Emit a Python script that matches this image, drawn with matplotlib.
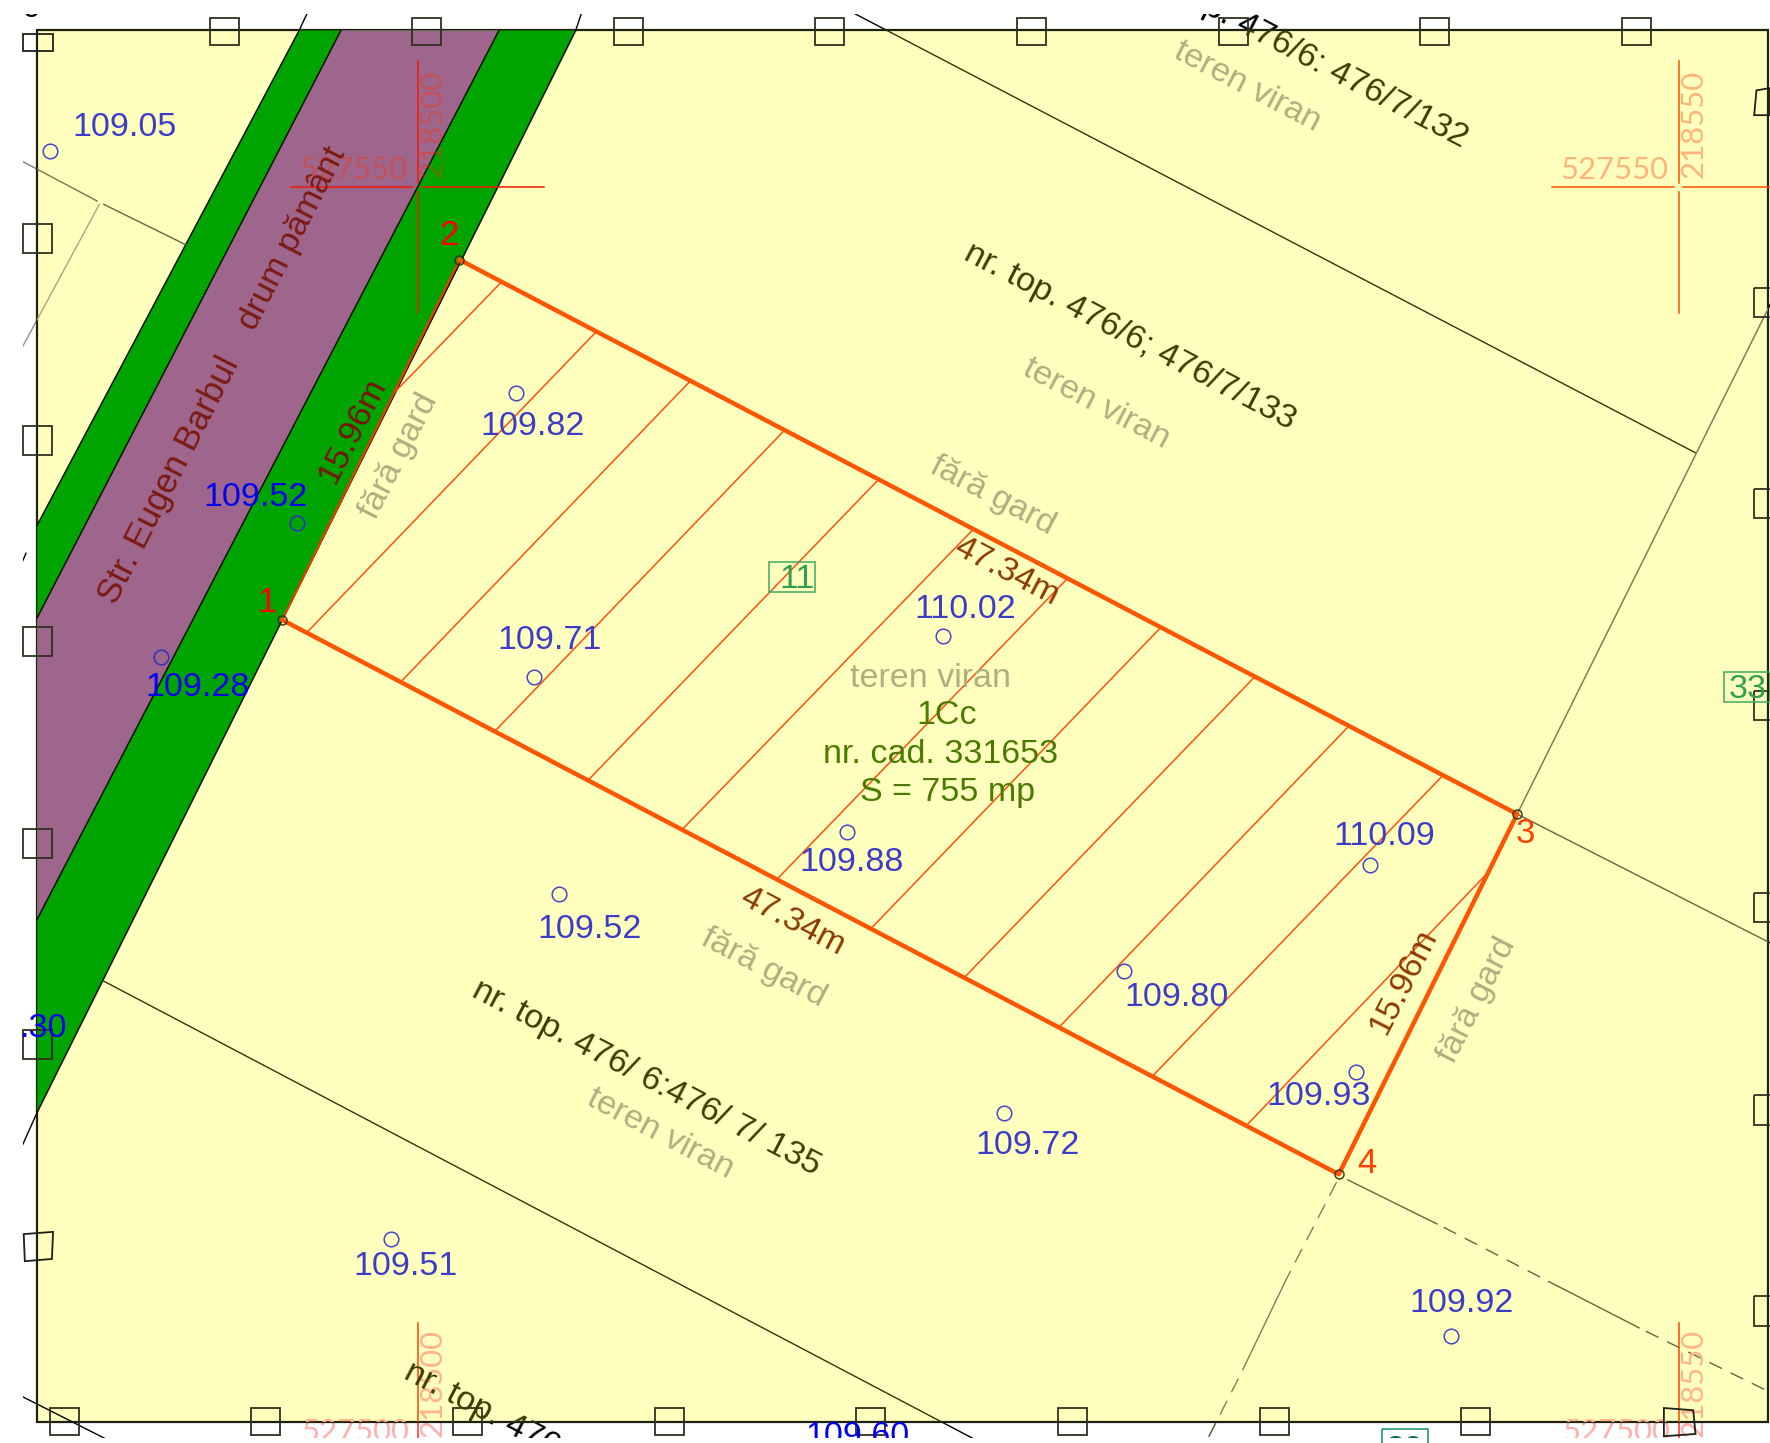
import math
import matplotlib
matplotlib.use('Agg')
import matplotlib.pyplot as plt
from matplotlib.patches import Polygon, Rectangle
from matplotlib.transforms import Bbox, TransformedBbox

plt.rcParams['font.family'] = ['Liberation Sans', 'DejaVu Sans']

frame_x = [33, 1566]
frame_y = [27, 1259]
view_x = [20, 1568]
view_y = [12, 1274]
YELLOW = '#FFFFBE'

road_left_outer = [(265, 27), (33, 465)]
road_left_inner = [(302, 27), (33, 547)]
road_right_inner = [(442, 27), (33, 814)]
road_right_outer = [(510, 27), (33, 985)]

parcel_x = [250, 407, 1344, 1186]
parcel_y = [549, 230, 721, 1040]
parcel_ids = ['1', '2', '3', '4']
parcel_id_x = [237, 398, 1351, 1211]
parcel_id_y = [531, 206, 736, 1028]
parcel_id_col = ['#FF0000', '#FF0000', '#FF4000', '#FF4000']

hatch_x0 = [444, 528, 611, 695, 778, 862, 945, 1028, 1111, 1195, 1278, 1315]
hatch_y0 = [250, 294, 338, 381, 425, 469, 513, 556, 600, 643, 687, 776]
hatch_x1 = [350, 272, 355, 438, 521, 604, 688, 771, 854, 938, 1021, 1104]
hatch_y1 = [347, 560, 604, 648, 691, 735, 779, 823, 866, 910, 953, 997]

elev_labels = ['109.05', '109.82', '109.71', '110.02', '109.88', '109.52',
               '109.80', '109.93', '110.09', '109.72', '109.51', '109.92']
elev_text_x = [110, 472, 487, 855, 754, 522, 1042, 1168, 1226, 910, 359, 1295]
elev_text_y = [110, 375, 565, 537, 761, 821, 881, 969, 738, 1012, 1119, 1152]
elev_pt_x = [44, 457, 473, 835, 750, 495, 996, 1201, 1214, 889, 346, 1285]
elev_pt_y = [134, 348, 600, 563, 737, 792, 860, 949, 766, 986, 1097, 1183]

road_elev_labels = ['109.52', '109.28', '.30', '109.60']
road_elev_x = [226, 175, 39, 760]
road_elev_y = [438, 606, 908, 1270]
road_pt_x = [263, 143]
road_pt_y = [463, 582]

top_sq_x = [199, 378, 557, 735, 914, 1093, 1271, 1450]
bottom_sq_x = [57, 235, 414, 593, 771, 950, 1129, 1307]
left_sq_y = [211, 390, 568, 747, 925]
right_sq_y = [268, 446, 625, 804, 983, 1161]
tilted_squares = [
    [(21, 1093), (47, 1091), (46, 1115), (22, 1117)],
    [(1568, 78), (1556, 80), (1554, 102), (1568, 102)],
    [(1474, 1247), (1500, 1249), (1502, 1270), (1474, 1272)],
    [(20, 30), (47, 30), (47, 45), (20, 45)],
]

cross_x = [370, 1487]
cross_y = [166, 166]
cross_h = [(258, 482), (1375, 1568)]
cross_v = [(54, 277), (54, 277)]
cross_col = ['#F01A00', '#FF5000']
cross_bottom_x = [370, 1487]

fig = plt.figure(figsize=(17.7, 14.43), dpi=100)
ax = fig.add_axes([0, 0, 1, 1])
ax.set_xlim(0, 1568)
ax.set_ylim(1278, 0)
ax.axis('off')

frame_box = TransformedBbox(Bbox([[frame_x[0], frame_y[0]], [frame_x[1], frame_y[1]]]), ax.transData)
view_box = TransformedBbox(Bbox([[view_x[0], view_y[0]], [view_x[1], view_y[1]]]), ax.transData)


def mapline(p0, p1, col, lw=1.0, ls='-', z=4, out='black'):
    # darker outside the sheet, tinted inside it
    u, = ax.plot([p0[0], p1[0]], [p0[1], p1[1]], color=out, lw=lw, ls=ls, zorder=1)
    u.set_clip_box(view_box)
    h, = ax.plot([p0[0], p1[0]], [p0[1], p1[1]], color=col, lw=lw, ls=ls, zorder=z)
    h.set_clip_box(frame_box)


def label(x, y, s, col, rot=0, size=24.5, outer=None, ha='center', alpha=None, z=8, **kw):
    # nudge towards the baseline side of the text
    x = x + 2.5 * math.sin(math.radians(rot))
    y = y + 2.5 * math.cos(math.radians(rot))
    if outer is not None:
        u = ax.text(x, y, s, color=outer, rotation=rot, fontsize=size, ha=ha, va='center',
                    rotation_mode='anchor', zorder=1, clip_on=True, **kw)
        u.set_clip_box(view_box)
    t = ax.text(x, y, s, color=col, rotation=rot, fontsize=size, ha=ha, va='center',
                rotation_mode='anchor', alpha=alpha, zorder=z, clip_on=True, **kw)
    t.set_clip_box(frame_box if outer is not None else view_box)


def grid_label(x, y, s, col, rot=0, outer=None, alpha=None):
    label(x, y, s, col, rot=rot, size=22.4, outer=outer, alpha=alpha, z=5, family='Lato')


ax.add_patch(Rectangle((frame_x[0], frame_y[0]), frame_x[1] - frame_x[0], frame_y[1] - frame_y[0],
                       facecolor=YELLOW, edgecolor='#202010', lw=1.6, zorder=2))

# road bands
ax.add_patch(Polygon(road_left_outer + [(33, 985)] + road_right_outer[::-1], closed=True,
                     facecolor='#00A400', edgecolor='none', zorder=3))
ax.add_patch(Polygon(road_left_inner + [road_right_inner[1], road_right_inner[0]], closed=True,
                     facecolor='#9E668C', edgecolor='none', zorder=3))
for edge in [road_left_outer, road_left_inner, road_right_inner, road_right_outer]:
    ax.plot(*zip(*edge), color='#101000', lw=1.1, zorder=3.5)
mapline((272, 12), (265, 27), 'black')
mapline((515, 12), (510, 27), 'black')
mapline((33, 985), (20, 1014), 'black')

# neighbour boundaries
mapline((757, 12), (1502, 401), '#33330A')
mapline((1568, 270), (1344, 721), '#808055', 1.1)
mapline((1344, 721), (1568, 835), '#66663A')
mapline((92, 869), (862, 1274), '#33330A')
mapline((20, 143), (86, 178), '#77774A', out='#808080')
mapline((92, 181), (165, 217), '#66663A')
mapline((88, 181), (20, 307), '#A6A680', out='#909090')
mapline((20, 1237), (93, 1274), 'black')
mapline((20, 497), (23, 490), 'black')
mapline((1194, 1045), (1273, 1084), '#66663A')
mapline((1279, 1087), (1372, 1135), '#66663A', ls=(0, (10, 7)))
mapline((1372, 1135), (1452, 1176), '#66663A')
mapline((1458, 1179), (1568, 1233), '#66663A', ls=(0, (10, 7)))
mapline((1184, 1047), (1139, 1134), '#808055', ls=(0, (11, 7)))
mapline((1139, 1134), (1101, 1213), '#808055')
mapline((1097, 1221), (1070, 1274), '#808055', ls=(0, (11, 7)), out='#505030')

# grid crosses
for cx, cy, hs, vs, col in zip(cross_x, cross_y, cross_h, cross_v, cross_col):
    ax.plot([hs[0], cx - 4], [cy, cy], color=col, lw=1.1, zorder=4)
    ax.plot([cx + 4, hs[1]], [cy, cy], color=col, lw=1.1, zorder=4)
    ax.plot([cx, cx], [vs[0], cy - 4], color=col, lw=1.1, zorder=4)
    ax.plot([cx, cx], [cy + 4, vs[1]], color=col, lw=1.1, zorder=4)
for cx in cross_bottom_x:
    mapline((cx, 1172), (cx, 1274), '#FF4400', 1.1, out='#FF3030')

pink = '#FF3000'
grid_label(313, 148, '527550', pink, alpha=0.36)
grid_label(381, 110, '218500', pink, rot=90, alpha=0.36)
grid_label(1430, 148, '527550', pink, alpha=0.36)
grid_label(1498, 110, '218550', pink, rot=90, alpha=0.36)
grid_label(381, 1225, '218500', '#FFB48C', rot=90, outer='#FFB0B0')
grid_label(1498, 1225, '218550', '#FFB48C', rot=90, outer='#FFB0B0')
grid_label(315, 1266, '527500', '#FFB48C', outer='#FFB0B0')
grid_label(1432, 1266, '527500', '#FFB48C', outer='#FFB0B0')

# parcel hatching and outline
for x0, y0, x1, y1 in zip(hatch_x0, hatch_y0, hatch_x1, hatch_y1):
    ax.plot([x0, x1], [y0, y1], color='#FF5010', lw=1.1, zorder=5)
ax.plot(parcel_x[:2], parcel_y[:2], color='#E04000', lw=1.6, zorder=6)
ax.plot(parcel_x[1:] + [parcel_x[0]], parcel_y[1:] + [parcel_y[0]], color='#FF5500', lw=3.2, zorder=6,
        solid_capstyle='round')
ax.plot(parcel_x, parcel_y, ls='none', marker='o', ms=6.5, mfc='none', mec='#33330A', mew=1.0, zorder=7)
for s, x, y, c in zip(parcel_ids, parcel_id_x, parcel_id_y, parcel_id_col):
    label(x, y, s, c, size=25)

# sheet tick squares
for x in top_sq_x:
    ax.add_patch(Rectangle((x - 13, 16), 26, 24, fill=False, ec='#303020', lw=1.3, zorder=7))
for x in bottom_sq_x:
    ax.add_patch(Rectangle((x - 13, 1247), 26, 24, fill=False, ec='#303020', lw=1.3, zorder=7))
for y in left_sq_y:
    ax.add_patch(Rectangle((20, y - 13), 26, 26, fill=False, ec='#303020', lw=1.3, zorder=7))
for y in right_sq_y:
    ax.add_patch(Rectangle((1554, y - 13), 26, 26, fill=False, ec='#303020', lw=1.3, zorder=7))
for quad in tilted_squares:
    ax.add_patch(Polygon(quad, closed=True, fill=False, ec='#202015', lw=1.3, zorder=7))

# elevation points
ax.plot(elev_pt_x, elev_pt_y, ls='none', marker='o', ms=10.5, mfc='none', mec='#4646C8', mew=1.1, zorder=7)
ax.plot(road_pt_x, road_pt_y, ls='none', marker='o', ms=10.5, mfc='none', mec='#3030C0', mew=1.1, zorder=7)
for s, x, y in zip(elev_labels, elev_text_x, elev_text_y):
    label(x, y, s, '#3C3CC8')
for s, x, y in zip(road_elev_labels, road_elev_x, road_elev_y):
    label(x, y, s, '#0000F0')

# descriptive text
ROT_LONG = -27.6
ROT_SHORT = 63
road_col = '#7B1A10'
grey = '#AEAE80'
olive = '#3C3C00'
dim = '#8B3A00'
label(148, 424, 'Str. Eugen Barbul', road_col, rot=ROT_SHORT, size=25)
label(257, 210, 'drum pământ', road_col, rot=ROT_SHORT, size=24.5)
label(310, 380, '15.96m', '#7C1000', rot=ROT_SHORT)
label(1241, 868, '15.96m', dim, rot=ROT_SHORT)
label(893, 504, '47.34m', dim, rot=ROT_LONG)
label(703, 814, '47.34m', dim, rot=ROT_LONG)
label(351, 403, 'fără gard', grey, rot=ROT_SHORT)
label(1306, 885, 'fără gard', grey, rot=ROT_SHORT)
label(880, 437, 'fără gard', grey, rot=ROT_LONG)
label(678, 855, 'fără gard', grey, rot=ROT_LONG)
label(1106, 75, 'teren viran', grey, rot=ROT_LONG)
label(972, 355, 'teren viran', grey, rot=ROT_LONG)
label(586, 1002, 'teren viran', grey, rot=ROT_LONG)
label(824, 598, 'teren viran', grey)
label(1154, 46, 'nr. top. 476/6: 476/7/132', olive, rot=ROT_LONG, outer='black')
label(1002, 296, 'nr. top. 476/6; 476/7/133', olive, rot=ROT_LONG)
label(574, 953, 'nr. top. 476/ 6:476/ 7/ 135', olive, rot=ROT_LONG)
label(361, 1211, 'nr. top. 476/', olive, rot=ROT_LONG, outer='black', ha='left')
label(839, 631, '1Cc', '#4A7A00')
label(833, 666, 'nr. cad. 331653', '#4A7A00')
label(839, 699, 'S = 755 mp', '#4A7A00')

# parcel number tags
ax.add_patch(Rectangle((681, 498), 41, 26, fill=False, ec='#40A860', lw=1.1, zorder=7))
label(706, 511, '11', '#30A050')
ax.add_patch(Rectangle((1527, 595), 41, 27, fill=False, ec='#40A860', lw=1.1, zorder=7))
label(1548, 608, '33', '#30A050')
ax.add_patch(Rectangle((1224, 1266), 41, 14, fill=False, ec='#109070', lw=1.1, zorder=7))
label(1244, 1282, '29', '#007050')
label(28, 5, '0', 'black')

fig.savefig('out.png', dpi=100, facecolor='white')
